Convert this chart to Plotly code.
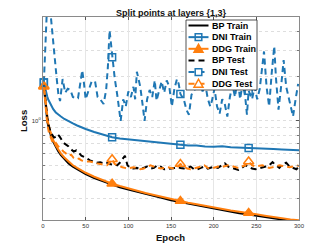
import math
import plotly.graph_objects as go

# ---------------- data ----------------
EPOCH_TRAIN = [1, 2, 3, 4, 5, 6, 8, 10, 12, 15, 18, 21, 25, 30, 35, 40, 45, 50, 60, 70,
               81, 90, 100, 110, 120, 130, 140, 150, 161, 170, 180, 190, 200, 210, 220, 230,
               241, 250, 260, 270, 280, 290, 300]
BP_TRAIN = [1.72, 1.45, 1.25, 1.1, 1.0, 0.93, 0.84, 0.77, 0.72, 0.66, 0.62, 0.585,
            0.55, 0.515, 0.49, 0.47, 0.45, 0.435, 0.41, 0.39, 0.37, 0.355, 0.342,
            0.33, 0.32, 0.31, 0.30, 0.29, 0.282, 0.275, 0.268, 0.26, 0.253, 0.247, 0.242,
            0.237, 0.232, 0.228, 0.224, 0.219, 0.214, 0.21, 0.206]
DNI_TRAIN = [1.82, 1.7, 1.6, 1.52, 1.46, 1.4, 1.32, 1.25, 1.2, 1.14, 1.1, 1.07,
             1.03, 0.99, 0.96, 0.93, 0.9, 0.88, 0.84, 0.81, 0.775, 0.76, 0.75,
             0.738, 0.728, 0.72, 0.71, 0.70, 0.688, 0.68, 0.681, 0.67, 0.668, 0.672, 0.662,
             0.66, 0.655, 0.652, 0.648, 0.645, 0.64, 0.636, 0.632]
DDG_TRAIN = [1.72, 1.5, 1.3, 1.15, 1.05, 0.97, 0.87, 0.8, 0.74, 0.68, 0.635, 0.6,
             0.565, 0.53, 0.5, 0.48, 0.46, 0.445, 0.418, 0.396, 0.375, 0.362, 0.348,
             0.336, 0.325, 0.315, 0.305, 0.296, 0.286, 0.279, 0.272, 0.265, 0.258, 0.252, 0.247,
             0.242, 0.238, 0.233, 0.228, 0.223, 0.218, 0.215, 0.212]

EPOCH_TEST = [1, 3, 5, 7, 9, 11, 13, 15, 17, 19, 21,
              24, 27, 30, 33, 36, 39, 42, 45, 48, 51,
              55, 59, 63, 67, 71, 75,
              78, 81, 84, 87, 90, 93, 96, 99, 102,
              106, 110, 114, 118, 122, 126, 130, 134, 138, 142, 146, 150, 154, 158,
              161,
              165, 169, 173, 177, 181, 185, 189, 193, 197, 201, 205, 209, 213, 217, 221, 225,
              229, 233, 237,
              241,
              245, 249, 253, 257, 261, 265, 269, 273, 277, 281, 285, 289, 293, 297,
              300]
BP_TEST = [1.75, 1.3, 1.05, 0.92, 0.84, 0.80, 0.77, 0.78, 0.81, 0.79, 0.75,
           0.71, 0.69, 0.67, 0.64, 0.62, 0.63, 0.61, 0.58, 0.57, 0.56,
           0.54, 0.53, 0.52, 0.525, 0.515, 0.52,
           0.51, 0.505, 0.51, 0.50, 0.52, 0.55, 0.58, 0.50, 0.48,
           0.475, 0.48, 0.47, 0.48, 0.49, 0.475, 0.48, 0.50, 0.49, 0.47, 0.47, 0.475, 0.48, 0.485,
           0.48,
           0.475, 0.48, 0.49, 0.47, 0.47, 0.48, 0.49, 0.475, 0.48, 0.49, 0.48, 0.50, 0.515, 0.49,
           0.48, 0.47, 0.465, 0.48, 0.50,
           0.49,
           0.475, 0.47, 0.475, 0.48, 0.49, 0.50, 0.525, 0.50, 0.48, 0.51, 0.52, 0.49, 0.48, 0.47,
           0.49]
DDG_TEST = [1.70, 1.2, 0.95, 0.83, 0.76, 0.72, 0.70, 0.71, 0.68, 0.66, 0.64,
            0.62, 0.60, 0.58, 0.59, 0.56, 0.55, 0.555, 0.54, 0.535, 0.53,
            0.53, 0.52, 0.515, 0.51, 0.505, 0.50,
            0.52, 0.55, 0.51, 0.50, 0.49, 0.485, 0.48, 0.475, 0.48,
            0.485, 0.48, 0.47, 0.475, 0.49, 0.50, 0.49, 0.48, 0.475, 0.48, 0.485, 0.48, 0.475, 0.49,
            0.51,
            0.49, 0.475, 0.47, 0.475, 0.48, 0.49, 0.50, 0.48, 0.475, 0.48, 0.49, 0.485, 0.49, 0.50,
            0.495, 0.485, 0.48, 0.49, 0.50,
            0.53,
            0.50, 0.49, 0.495, 0.50, 0.49, 0.48, 0.485, 0.49, 0.50, 0.495, 0.49, 0.485, 0.49, 0.50,
            0.495]

EPOCH_DNI_TEST = [1, 3, 5, 8, 10, 12, 13, 14, 16, 18, 20, 23, 26, 29, 32, 35, 38, 41, 43, 46,
                  48, 50, 53, 57, 61, 64, 67, 71, 74, 76, 78, 81, 84, 87, 89, 91, 94, 97, 100,
                  103, 106, 108, 110, 114, 117, 119, 122, 125, 128, 131, 133, 136, 139, 142,
                  145, 148, 151, 154, 157, 159, 161, 165, 168, 171, 174, 177, 180, 184, 187,
                  190, 193, 196, 198, 201, 204, 207, 210, 213, 216, 219, 222, 225, 228, 231,
                  234, 237, 239, 241, 245, 248, 251, 254, 257, 259, 262, 265, 268, 271, 273,
                  276, 279, 282, 285, 288, 290, 293, 296, 299]
DNI_TEST = [1.82, 4.0, 6.5, 6.0, 4.5, 3.3, 2.9, 2.3, 1.95, 1.52, 1.36, 1.92, 1.55, 1.65, 1.62,
            1.45, 1.42, 1.42, 1.65, 2.2, 1.8, 1.4, 1.58, 1.85, 1.85, 1.45, 1.4, 1.3, 1.62, 2.3,
            4.1, 2.7, 1.95, 1.5, 1.17, 1.0, 1.4, 1.25, 1.58, 1.45, 1.7, 1.4, 2.15, 1.7, 1.25,
            1.0, 1.4, 1.62, 1.45, 1.88, 1.37, 1.62, 1.85, 1.55, 1.88, 1.7, 1.25, 1.65, 1.92,
            1.78, 1.52, 1.4, 1.19, 1.1, 1.5, 1.62, 1.65, 1.88, 1.58, 1.8, 1.42, 1.25, 1.37,
            1.65, 1.25, 1.12, 1.4, 1.3, 1.07, 1.45, 1.75, 1.45, 1.95, 1.4, 1.8, 1.45, 1.1,
            1.6, 1.4, 1.7, 1.4, 1.65, 2.3, 2.95, 1.7, 1.25, 2.1, 3.2, 1.95, 1.19, 1.7, 2.58,
            1.7, 1.4, 1.25, 1.07, 1.4, 1.78]

MARK_EPOCHS = [1, 81, 161, 241]
X_TICKS = [0, 50, 100, 150, 200, 250, 300]
Y_TICKS = [1]
Y_TICK_TEXT = ["10<sup>0</sup>"]
Y_MINOR = [0.3, 0.4, 0.5, 0.6, 0.7, 0.8, 0.9, 2, 3, 4, 5]
NAMES = ["BP Train", "DNI Train", "DDG Train", "BP Test", "DNI Test", "DDG Test"]
TITLE = "Split points at layers {1,3}"

# ---------------- styling ----------------
W, H = 332, 249
PL, PR, PT, PB = 43, 299, 17, 220   # plot area in pixels
BLUE = "#1f77b4"
ORANGE = "#ff7f0e"
BLACK = "#000000"
FONT = "Liberation Sans, Arial, sans-serif"
DASH = "6px,4px"
GRID = "#dedede"


def fx(px):
    return (px - PL) / (PR - PL)


def fy(py):
    return (PB - py) / (PB - PT)


series = [
    (NAMES[0], EPOCH_TRAIN, BP_TRAIN, BLACK, "solid", None),
    (NAMES[1], EPOCH_TRAIN, DNI_TRAIN, BLUE, "solid", "square-open"),
    (NAMES[2], EPOCH_TRAIN, DDG_TRAIN, ORANGE, "solid", "triangle-up"),
    (NAMES[3], EPOCH_TEST, BP_TEST, BLACK, DASH, None),
    (NAMES[4], EPOCH_DNI_TEST, DNI_TEST, BLUE, DASH, "square-open"),
    (NAMES[5], EPOCH_TEST, DDG_TEST, ORANGE, DASH, "triangle-up-open"),
]

fig = go.Figure()
for name, xs, ys, col, dash, sym in series:
    fig.add_trace(go.Scatter(x=xs, y=ys, mode="lines", name=name, showlegend=False,
                             hoverinfo="skip",
                             line=dict(color=col, width=2, dash=dash)))
    if sym:
        mx = [e for e in xs if e in MARK_EPOCHS]
        my = [v for e, v in zip(xs, ys) if e in MARK_EPOCHS]
        fig.add_trace(go.Scatter(
            x=mx, y=my, mode="markers", showlegend=False, cliponaxis=False,
            hoverinfo="skip",
            marker=dict(symbol=sym, size=7 if "square" in sym else 9, color=col,
                        line=dict(color=col, width=1.5))))

# ---------------- custom legend (box, samples, labels) ----------------
shapes = []
annotations = []
LX0, LX1, LY0, LY1 = 186, 257, 20, 90
shapes.append(dict(type="rect", xref="paper", yref="paper", x0=fx(LX0), x1=fx(LX1),
                   y0=fy(LY1), y1=fy(LY0), fillcolor="white",
                   line=dict(color="#262626", width=0.8), layer="above"))
row0, drow = 25.5, 11.65
for i, (name, xs, ys, col, dash, sym) in enumerate(series):
    ry = row0 + i * drow
    shapes.append(dict(type="line", xref="paper", yref="paper", x0=fx(188.5), x1=fx(208.5),
                       y0=fy(ry), y1=fy(ry), line=dict(color=col, width=2, dash=dash),
                       layer="above"))
    cx = 198.5
    if sym and "square" in sym:
        h = 3.3
        shapes.append(dict(type="rect", xref="paper", yref="paper",
                           x0=fx(cx - h), x1=fx(cx + h), y0=fy(ry + h), y1=fy(ry - h),
                           line=dict(color=col, width=1.5),
                           fillcolor=("rgba(0,0,0,0)" if "Train" in name else "white"),
                           layer="above"))
    elif sym:
        p = "M {:.5f},{:.5f} L {:.5f},{:.5f} L {:.5f},{:.5f} Z".format(
            fx(cx - 4.5), fy(ry + 3.5), fx(cx + 4.5), fy(ry + 3.5), fx(cx), fy(ry - 4.5))
        shapes.append(dict(type="path", xref="paper", yref="paper", path=p,
                           line=dict(color=col, width=1.5),
                           fillcolor=(col if "open" not in sym else "white"), layer="above"))
    annotations.append(dict(text="<b>%s</b>" % name, xref="paper", yref="paper",
                            x=fx(209.5), y=fy(ry), xanchor="left", yanchor="middle",
                            showarrow=False, font=dict(family=FONT, size=9, color="black")))

# titles
annotations.append(dict(text="<b>%s</b>" % TITLE, xref="paper", yref="paper",
                        x=fx(171), y=fy(12.8), xanchor="center", yanchor="middle",
                        showarrow=False, font=dict(family=FONT, size=9, color="#111")))
annotations.append(dict(text="<b>Epoch</b>", xref="paper", yref="paper",
                        x=fx(170.5), y=fy(237.5), xanchor="center", yanchor="middle",
                        showarrow=False, font=dict(family=FONT, size=9.5, color="#111")))
annotations.append(dict(text="<b>Loss</b>", xref="paper", yref="paper",
                        x=fx(23.5), y=fy(121.5), xanchor="center", yanchor="middle",
                        textangle=-90, showarrow=False,
                        font=dict(family=FONT, size=9.5, color="#111")))

fig.update_layout(
    width=W, height=H, autosize=False,
    margin=dict(l=PL, r=W - PR, t=PT, b=H - PB, pad=0),
    paper_bgcolor="white", plot_bgcolor="white",
    font=dict(family=FONT, color="#262626"),
    showlegend=False, hovermode=False,
    shapes=shapes, annotations=annotations,
    xaxis=dict(range=[0, 300], tickmode="array", tickvals=X_TICKS,
               ticks="inside", ticklen=3, tickcolor="#555", showline=True,
               linecolor="#8a8a8a", linewidth=1, mirror="ticks",
               showgrid=True, gridcolor="#e6e6e6", gridwidth=1, zeroline=False,
               tickfont=dict(size=6, color="#333")),
    yaxis=dict(type="log", range=[math.log10(0.213), math.log10(5.05)],
               tickmode="array", tickvals=Y_TICKS, ticktext=Y_TICK_TEXT,
               ticks="inside", ticklen=3, tickcolor="#555", showline=True,
               linecolor="#8a8a8a", linewidth=1, mirror="ticks",
               showgrid=True, gridcolor=GRID, griddash="dot", zeroline=False,
               tickfont=dict(size=6, color="#333"),
               minor=dict(tickmode="array", tickvals=Y_MINOR, ticks="inside", ticklen=2,
                          tickcolor="#777", showgrid=True, gridcolor=GRID,
                          griddash="dot")),
)

fig.write_html("out.html", config={"displayModeBar": False, "staticPlot": True},
               post_script="document.body.style.margin='0px';")
